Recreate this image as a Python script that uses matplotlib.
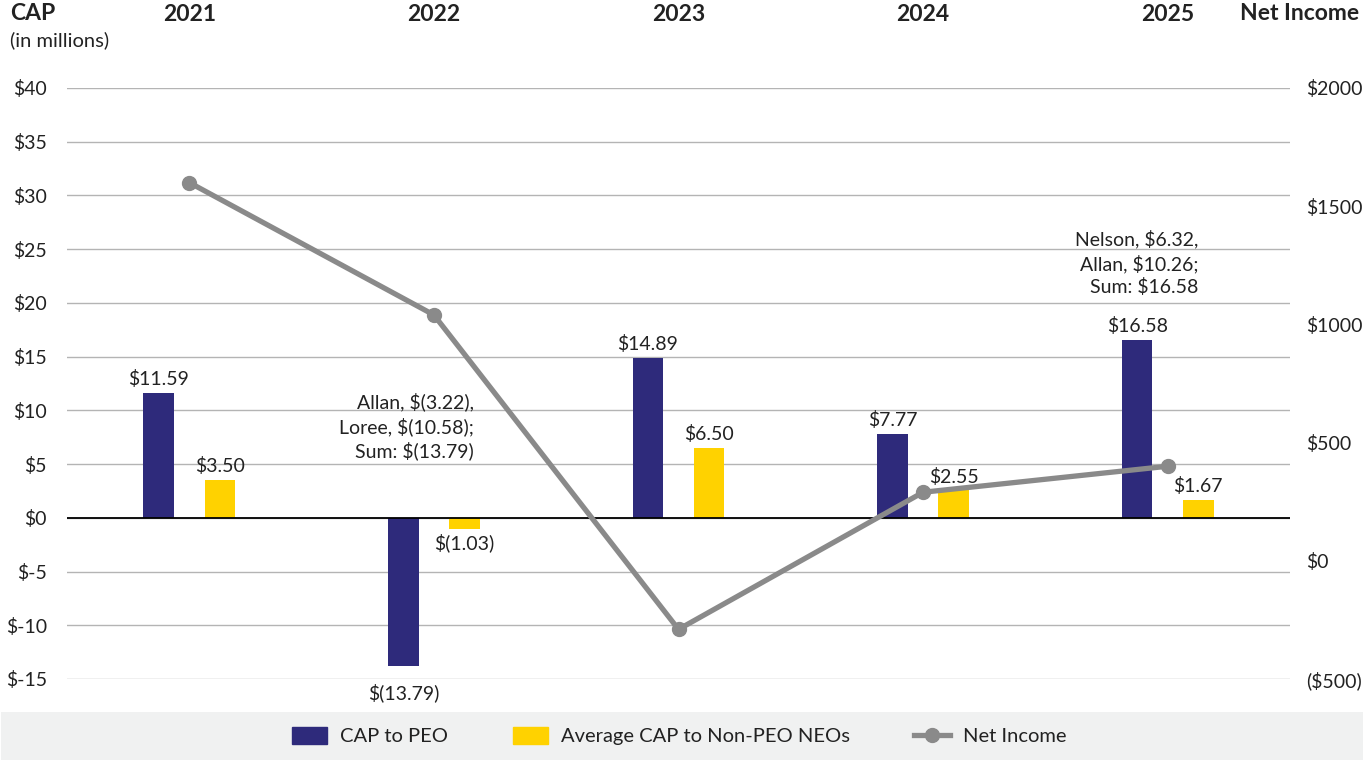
import numpy as np
import matplotlib.pyplot as plt
from matplotlib.patches import Rectangle
from matplotlib.lines import Line2D

plt.rcParams['font.family'] = ['Lato', 'DejaVu Sans']

# Data
years = ['2021', '2022', '2023', '2024', '2025']
cap_peo = [11.59, -13.79, 14.89, 7.77, 16.58]
cap_neo = [3.50, -1.03, 6.50, 2.55, 1.67]
net_income = [1600, 1040, -290, 290, 400]
left_ticks = [-15, -10, -5, 0, 5, 10, 15, 20, 25, 30, 35, 40]
right_ticks = [-500, 0, 500, 1000, 1500, 2000]
right_labels = ['($500)', '$0', '$500', '$1000', '$1500', '$2000']
note_2022 = 'Allan, $(3.22),\nLoree, $(10.58);\nSum: $(13.79)'
note_2025 = 'Nelson, $6.32,\nAllan, $10.26;\nSum: $16.58'

navy = '#2e2a7b'
gold = '#ffd200'
gray = '#8a8a8a'
text_c = '#222222'

W, H = 1372, 760
fig = plt.figure(figsize=(W / 100, H / 100), dpi=100)
ax = fig.add_axes([67 / W, 1 - 679 / H, (1290 - 67) / W, (679 - 88) / H])
ax2 = ax.twinx()

x = np.arange(len(years))
bw = 0.125
off = 0.125

ax.bar(x - off, cap_peo, width=bw, color=navy, zorder=3)
ax.bar(x + off, cap_neo, width=bw, color=gold, zorder=3)


def fmt(v):
    return f'${v:.2f}' if v >= 0 else f'$({abs(v):.2f})'


for xs, vals in [(x - off, cap_peo), (x + off, cap_neo)]:
    for xi, v in zip(xs, vals):
        if v >= 0:
            dy = 10
        else:
            dy = -19 if v < -10 else -10
        ax.annotate(fmt(v), (xi, v), xytext=(0, dy), textcoords='offset points',
                    ha='center', va='center', fontsize=14, color=text_c, zorder=5)

ax.text(1 + 0.163, 8.5, note_2022, ha='right', va='center', fontsize=14,
        color=text_c, linespacing=1.35)
ax.text(4 + 0.127, 23.7, note_2025, ha='right', va='center', fontsize=14,
        color=text_c, linespacing=1.35)

ax.set_xlim(-0.5, 4.5)
ax.set_ylim(-15, 40)
ax.set_yticks(left_ticks)
ax.set_yticklabels([f'${t}' for t in left_ticks])
ax.grid(axis='y', color='#b4b4b4', linewidth=1, zorder=0)
ax.axhline(0, color='black', linewidth=1.3, zorder=4)
ax.tick_params(axis='y', length=0, pad=14.5, labelsize=14, labelcolor=text_c)

ax.xaxis.tick_top()
ax.set_xticks(x)
ax.set_xticklabels(years, fontsize=16.5, fontweight='bold', color=text_c)
ax.tick_params(axis='x', length=0, pad=45)

ax2.plot(x, net_income, color=gray, linewidth=3.8, marker='o', markersize=10, zorder=6)
ax2.set_ylim(-500, 2000)
ax2.set_yticks(right_ticks)
ax2.set_yticklabels(right_labels)
ax2.tick_params(axis='y', length=0, pad=11.5, labelsize=14, labelcolor=text_c)

for a in (ax, ax2):
    for s in a.spines.values():
        s.set_visible(False)

fig.text(10 / W, 1 - 14 / H, 'CAP', fontsize=16.5, fontweight='bold', color=text_c,
         ha='left', va='center')
fig.text(10 / W, 1 - 40 / H, '(in millions)', fontsize=14.5, color=text_c,
         ha='left', va='center')
fig.text(1359 / W, 1 - 14 / H, 'Net Income', fontsize=16.5, fontweight='bold',
         color=text_c, ha='right', va='center')

# legend band
fig.patches.append(Rectangle((1 / W, 0), 1362 / W, 48 / H, transform=fig.transFigure,
                             facecolor='#f0f1f1', edgecolor='none', zorder=0))
handles = [Rectangle((0, 0), 1, 1, color=navy),
           Rectangle((0, 0), 1, 1, color=gold),
           Line2D([0], [0], color=gray, linewidth=3.8, marker='o', markersize=10)]
fig.legend(handles, ['CAP to PEO', 'Average CAP to Non-PEO NEOs', 'Net Income'],
           loc='center', bbox_to_anchor=(679 / W, 24 / H), ncol=3, frameon=False,
           fontsize=14.5, handlelength=1.75, handleheight=0.9, columnspacing=3.2,
           handletextpad=0.65, labelcolor=text_c)

fig.savefig('out.png', dpi=100)
